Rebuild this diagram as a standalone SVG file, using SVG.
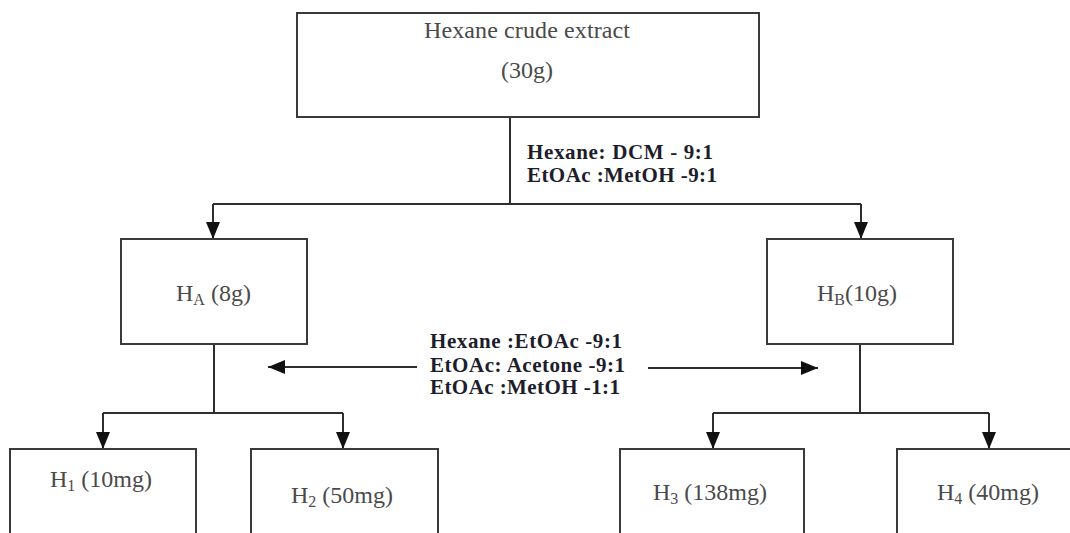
<svg xmlns="http://www.w3.org/2000/svg" width="1070" height="533" viewBox="0 0 1070 533">
  <style>
    .box { fill: #ffffff; stroke: #3a3a3a; stroke-width: 2; }
    .line { fill: none; stroke: #2e2e2e; stroke-width: 2; }
    .lbl { font-family: "Liberation Serif", "Times New Roman", serif; font-size: 24px; fill: #4a4a4a; }
    .sub { font-size: 16px; }
    .cond { font-family: "Liberation Serif", "Times New Roman", serif; font-size: 21px; font-weight: bold; fill: #1d1d2b; }
  </style>
  <defs>
    <marker id="arrow" markerUnits="userSpaceOnUse" markerWidth="17" markerHeight="14" refX="17" refY="7" orient="auto">
      <path d="M0,0 L17,7 L0,14 z" fill="#111111"/>
    </marker>
  </defs>
  <rect width="1070" height="533" fill="#ffffff"/>

  <!-- connectors and solvent-system labels -->
  <g id="connectors">
    <path class="line" d="M510,117 V204"/>
    <path class="line" d="M213,204 H861"/>
    <path class="line" d="M213,204 V239" marker-end="url(#arrow)"/>
    <path class="line" d="M861,204 V239" marker-end="url(#arrow)"/>
    <path class="line" d="M214,344 V413"/>
    <path class="line" d="M103,413 H343"/>
    <path class="line" d="M103,413 V449" marker-end="url(#arrow)"/>
    <path class="line" d="M343,413 V449" marker-end="url(#arrow)"/>
    <path class="line" d="M860,344 V413"/>
    <path class="line" d="M713,413 H989"/>
    <path class="line" d="M713,413 V449" marker-end="url(#arrow)"/>
    <path class="line" d="M989,413 V449" marker-end="url(#arrow)"/>
    <path class="line" d="M417,367 H268" marker-end="url(#arrow)"/>
    <path class="line" d="M648,368 H818" marker-end="url(#arrow)"/>
    <text class="cond" x="527" y="159" textLength="186" lengthAdjust="spacing">Hexane: DCM - 9:1</text>
    <text class="cond" x="527" y="182" textLength="190" lengthAdjust="spacing">EtOAc :MetOH -9:1</text>
    <text class="cond" x="430" y="348" textLength="192" lengthAdjust="spacing">Hexane :EtOAc -9:1</text>
    <text class="cond" x="430" y="372" textLength="195" lengthAdjust="spacing">EtOAc: Acetone -9:1</text>
    <text class="cond" x="430" y="394" textLength="190" lengthAdjust="spacing">EtOAc :MetOH -1:1</text>
  </g>

  <!-- crude extract -->
  <g id="node-crude">
    <rect class="box" x="297" y="13" width="462" height="104"/>
    <text class="lbl" x="527" y="38" text-anchor="middle" textLength="206" lengthAdjust="spacing">Hexane crude extract</text>
    <text class="lbl" x="527" y="78" text-anchor="middle">(30g)</text>
  </g>

  <!-- first fractions -->
  <g id="node-HA">
    <rect class="box" x="121" y="239" width="186" height="105"/>
    <text class="lbl" x="176" y="301">H<tspan class="sub" dy="4">A</tspan><tspan dy="-4"> (8g)</tspan></text>
  </g>
  <g id="node-HB">
    <rect class="box" x="767" y="239" width="186" height="105"/>
    <text class="lbl" x="817" y="301">H<tspan class="sub" dy="4">B</tspan><tspan dy="-4">(10g)</tspan></text>
  </g>

  <!-- sub-fractions -->
  <g id="node-H1">
    <rect class="box" x="10" y="449" width="186" height="100"/>
    <text class="lbl" x="50" y="487">H<tspan class="sub" dy="4">1</tspan><tspan dy="-4"> (10mg)</tspan></text>
  </g>
  <g id="node-H2">
    <rect class="box" x="251" y="449" width="187" height="100"/>
    <text class="lbl" x="291" y="503">H<tspan class="sub" dy="4">2</tspan><tspan dy="-4"> (50mg)</tspan></text>
  </g>
  <g id="node-H3">
    <rect class="box" x="620" y="449" width="184" height="100"/>
    <text class="lbl" x="653" y="500">H<tspan class="sub" dy="4">3</tspan><tspan dy="-4"> (138mg)</tspan></text>
  </g>
  <g id="node-H4">
    <rect class="box" x="897" y="449" width="190" height="100"/>
    <text class="lbl" x="937" y="500">H<tspan class="sub" dy="4">4</tspan><tspan dy="-4"> (40mg)</tspan></text>
  </g>
</svg>
